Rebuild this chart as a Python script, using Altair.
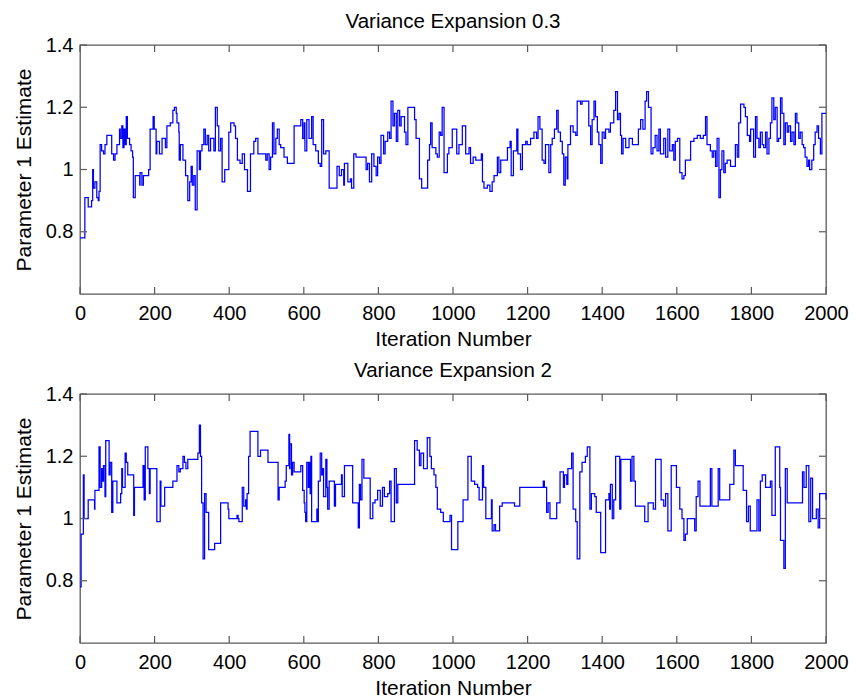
import altair as alt
import pandas as pd

# ---------------- data ----------------
top_iter = [0, 9, 13, 22, 31, 34, 36, 40, 45, 49, 51, 54, 58, 63, 67, 72, 85, 90, 94, 99,
            106, 108, 112, 115, 118, 121, 124, 127, 133, 137, 141, 143, 148, 160, 161, 166, 170, 184, 188, 196,
            199, 204, 206, 213, 220, 229, 233, 242, 249, 253, 258, 260, 265, 266, 269, 276, 283, 289, 294, 298,
            301, 305, 309, 314, 320, 323, 327, 332, 336, 341, 345, 350, 359, 363, 368, 372, 377, 381, 388, 399,
            404, 413, 417, 422, 429, 435, 441, 449, 457, 466, 471, 477, 493, 498, 502, 507, 511, 516, 520, 525,
            529, 534, 538, 547, 556, 574, 592, 597, 601, 603, 608, 614, 621, 625, 632, 639, 644, 648, 653, 659,
            668, 689, 695, 701, 707, 709, 718, 725, 728, 734, 740, 767, 771, 776, 782, 788, 794, 798, 803, 807,
            814, 818, 825, 830, 834, 839, 843, 848, 852, 857, 861, 870, 874, 879, 897, 901, 910, 916, 925, 932,
            937, 940, 944, 954, 958, 963, 967, 971, 976, 985, 989, 998, 1010, 1016, 1025, 1034, 1043, 1047, 1054, 1061,
            1076, 1079, 1083, 1092, 1099, 1105, 1110, 1119, 1123, 1128, 1146, 1153, 1156, 1162, 1171, 1174, 1181, 1186, 1195, 1199,
            1208, 1217, 1224, 1228, 1233, 1239, 1244, 1248, 1257, 1262, 1266, 1272, 1278, 1282, 1288, 1293, 1297, 1301, 1306, 1308,
            1315, 1322, 1329, 1333, 1342, 1346, 1364, 1369, 1373, 1378, 1382, 1387, 1391, 1396, 1400, 1405, 1409, 1418, 1422, 1431,
            1436, 1441, 1445, 1449, 1452, 1456, 1463, 1472, 1481, 1497, 1503, 1509, 1515, 1519, 1524, 1531, 1536, 1542, 1547, 1552,
            1556, 1565, 1570, 1576, 1581, 1588, 1592, 1596, 1602, 1608, 1614, 1619, 1623, 1632, 1637, 1646, 1655, 1663, 1671, 1677,
            1681, 1690, 1695, 1699, 1704, 1708, 1713, 1717, 1721, 1726, 1730, 1735, 1744, 1757, 1762, 1766, 1771, 1780, 1784, 1789,
            1795, 1798, 1806, 1811, 1815, 1820, 1824, 1829, 1833, 1838, 1842, 1847, 1851, 1855, 1860, 1864, 1869, 1873, 1878, 1882,
            1887, 1891, 1896, 1900, 1905, 1909, 1914, 1918, 1922, 1927, 1931, 1936, 1940, 1944, 1949, 1953, 1956, 1962, 1967, 1971,
            1976, 1980, 1985, 1989, 2000]
top_val = [0.78, 0.78, 0.91, 0.88, 0.90, 1.00, 0.94, 0.96, 0.91, 0.90, 0.93, 1.08, 1.06, 1.05, 1.08, 1.11, 1.05, 1.03, 1.05, 1.08,
           1.13, 1.10, 1.14, 1.07, 1.13, 1.08, 1.17, 1.10, 1.08, 1.06, 1.04, 0.91, 0.98, 0.95, 0.99, 0.95, 0.98, 1.00, 1.13, 1.17,
           1.13, 1.05, 1.09, 1.05, 1.10, 1.07, 1.14, 1.15, 1.19, 1.20, 1.18, 1.15, 1.12, 1.03, 1.08, 1.03, 0.98, 0.90, 0.96, 1.01,
           0.95, 0.98, 0.87, 1.06, 1.00, 1.06, 1.08, 1.13, 1.08, 1.11, 1.06, 1.10, 1.06, 1.20, 1.14, 1.06, 1.10, 0.96, 1.00, 1.12,
           1.15, 1.14, 1.10, 1.03, 1.02, 1.05, 1.00, 0.93, 1.05, 1.09, 1.10, 1.05, 1.05, 1.03, 1.05, 1.00, 1.04, 1.15, 1.05, 1.10,
           1.13, 1.08, 1.07, 1.04, 1.02, 1.14, 1.16, 1.10, 1.15, 1.06, 1.16, 1.10, 1.17, 1.08, 1.06, 1.02, 1.01, 1.16, 1.05, 1.06,
           0.94, 1.01, 0.98, 1.00, 0.95, 1.02, 0.96, 0.97, 0.94, 1.05, 1.04, 1.00, 1.02, 0.96, 1.05, 1.01, 0.98, 1.04, 1.02, 1.11,
           1.05, 1.09, 1.12, 1.10, 1.22, 1.14, 1.18, 1.09, 1.19, 1.14, 1.17, 1.12, 1.08, 1.20, 1.16, 1.10, 0.97, 0.94, 0.94, 1.03,
           1.08, 1.15, 1.07, 1.05, 1.04, 1.12, 1.11, 1.20, 0.99, 1.05, 1.07, 1.13, 1.05, 1.08, 1.14, 1.05, 1.07, 1.02, 1.04, 1.03,
           1.05, 0.96, 0.94, 0.95, 0.93, 0.96, 0.98, 1.04, 0.99, 1.03, 1.07, 1.09, 0.98, 1.06, 1.13, 1.05, 1.00, 1.08, 1.09, 1.08,
           1.10, 1.12, 1.10, 1.17, 1.13, 1.03, 1.02, 1.08, 0.99, 1.08, 1.10, 1.13, 1.19, 1.12, 1.09, 1.05, 0.95, 1.04, 0.97, 1.08,
           1.14, 1.12, 1.11, 1.22, 1.21, 1.22, 1.14, 1.08, 1.16, 1.22, 1.17, 1.12, 1.08, 1.02, 1.12, 1.10, 1.13, 1.12, 1.15, 1.19,
           1.25, 1.16, 1.18, 1.11, 1.05, 1.10, 1.07, 1.10, 1.08, 1.13, 1.16, 1.13, 1.22, 1.25, 1.20, 1.05, 1.07, 1.11, 1.06, 1.13,
           1.05, 1.10, 1.04, 1.13, 1.06, 1.08, 1.03, 1.09, 1.10, 0.99, 0.97, 0.98, 1.03, 1.03, 1.09, 1.10, 1.11, 1.10, 1.11, 1.17,
           1.08, 1.06, 1.04, 1.06, 1.01, 1.10, 0.91, 1.00, 1.06, 0.99, 1.02, 1.03, 1.01, 1.08, 1.04, 1.15, 1.21, 1.20, 1.17, 1.11,
           1.09, 1.13, 1.04, 1.17, 1.10, 1.07, 1.12, 1.08, 1.07, 1.12, 1.05, 1.10, 1.15, 1.23, 1.16, 1.20, 1.09, 1.10, 1.23, 1.18,
           1.08, 1.15, 1.12, 1.14, 1.09, 1.12, 1.08, 1.18, 1.15, 1.10, 1.12, 1.08, 1.07, 1.04, 1.01, 1.03, 1.00, 1.03, 1.08, 1.12,
           1.14, 1.10, 1.05, 1.18, 1.18]

bot_iter = [0, 3, 9, 11, 22, 39, 40, 51, 54, 58, 61, 63, 67, 69, 78, 81, 85, 88, 99, 109,
            112, 114, 121, 124, 128, 144, 146, 169, 172, 175, 182, 186, 188, 206, 215, 217, 227, 249, 260, 265,
            269, 276, 280, 284, 289, 316, 320, 323, 326, 330, 334, 338, 345, 361, 377, 397, 399, 421, 424, 426,
            435, 439, 444, 446, 448, 452, 456, 477, 484, 504, 531, 534, 550, 553, 560, 562, 563, 567, 570, 574,
            592, 597, 601, 603, 605, 608, 612, 614, 617, 619, 621, 635, 637, 639, 644, 648, 650, 653, 659, 662,
            664, 668, 682, 685, 701, 703, 709, 731, 746, 749, 752, 756, 761, 778, 785, 791, 798, 805, 811, 816,
            825, 830, 834, 843, 848, 852, 897, 904, 910, 914, 921, 931, 938, 942, 949, 954, 958, 967, 974, 992,
            996, 1013, 1027, 1040, 1049, 1058, 1066, 1070, 1079, 1082, 1088, 1103, 1105, 1110, 1114, 1125, 1132, 1165, 1179, 1242,
            1245, 1251, 1255, 1260, 1278, 1287, 1296, 1299, 1305, 1308, 1318, 1322, 1329, 1333, 1340, 1346, 1355, 1360, 1367, 1371,
            1380, 1384, 1396, 1409, 1418, 1420, 1422, 1427, 1431, 1436, 1447, 1450, 1476, 1480, 1485, 1489, 1514, 1523, 1537, 1543,
            1558, 1565, 1570, 1576, 1585, 1599, 1608, 1614, 1619, 1623, 1628, 1648, 1652, 1657, 1662, 1690, 1694, 1711, 1715, 1742,
            1753, 1757, 1778, 1787, 1792, 1797, 1815, 1820, 1824, 1829, 1838, 1851, 1855, 1864, 1876, 1878, 1887, 1891, 1896, 1937,
            1941, 1947, 1954, 1959, 1964, 1974, 1979, 1983, 2000]
bot_val = [0.78, 0.95, 1.14, 1.00, 1.06, 1.03, 1.09, 1.23, 1.10, 1.16, 1.12, 1.17, 1.07, 1.25, 1.14, 1.18, 1.02, 1.12, 1.05, 1.08,
           1.16, 1.10, 1.21, 1.18, 1.14, 1.01, 1.10, 1.17, 1.06, 1.23, 1.16, 1.08, 1.16, 0.99, 1.12, 1.04, 1.10, 1.12, 1.17, 1.15,
           1.16, 1.20, 1.18, 1.16, 1.19, 1.21, 1.30, 1.20, 1.05, 0.87, 1.08, 1.02, 0.90, 0.92, 1.05, 1.03, 1.00, 1.01, 1.00, 0.99,
           1.10, 1.04, 1.06, 1.03, 1.08, 1.20, 1.28, 1.20, 1.22, 1.18, 1.06, 1.10, 1.12, 1.17, 1.27, 1.16, 1.24, 1.14, 1.18, 1.15,
           1.17, 1.09, 1.05, 1.02, 0.99, 1.18, 1.10, 1.18, 1.08, 1.20, 0.99, 1.03, 0.99, 1.12, 1.21, 1.14, 1.16, 1.07, 1.19, 1.10,
           1.03, 1.12, 1.04, 1.11, 1.14, 1.07, 1.17, 1.05, 0.97, 1.11, 1.06, 1.19, 1.13, 1.00, 1.05, 1.06, 1.09, 1.04, 1.10, 1.07,
           1.08, 1.12, 0.99, 1.16, 1.05, 1.11, 1.25, 1.22, 1.17, 1.21, 1.16, 1.26, 1.20, 1.16, 1.14, 1.10, 1.03, 1.02, 0.99, 1.01,
           0.90, 0.99, 1.06, 1.20, 1.12, 1.11, 1.10, 1.06, 1.17, 1.10, 1.00, 1.06, 0.96, 0.98, 0.96, 1.04, 1.05, 1.04, 1.10, 1.12,
           1.10, 1.02, 1.05, 1.00, 1.05, 1.15, 1.10, 1.14, 1.11, 1.16, 1.21, 1.03, 0.99, 0.87, 1.15, 1.18, 1.20, 1.23, 1.03, 1.08,
           1.07, 1.02, 0.89, 1.06, 1.08, 1.03, 1.11, 1.00, 1.06, 1.20, 1.03, 1.19, 1.12, 1.20, 1.12, 1.04, 0.99, 1.05, 1.03, 1.19,
           1.06, 1.04, 1.08, 0.96, 1.17, 1.10, 1.03, 1.00, 0.93, 0.95, 1.00, 0.96, 1.07, 1.12, 1.04, 1.16, 1.04, 1.16, 1.06, 1.11,
           1.22, 1.17, 1.09, 0.99, 1.04, 0.96, 1.06, 0.96, 1.12, 1.14, 1.10, 1.12, 1.01, 1.23, 1.10, 0.93, 0.84, 1.16, 1.05, 1.15,
           1.10, 1.17, 0.99, 1.13, 1.00, 1.03, 0.97, 1.08, 1.06]

panel_titles = ["Variance Expansion 0.3", "Variance Expansion 2"]
x_title = "Iteration Number"
y_title = "Parameter 1 Estimate"
x_ticks = [0, 200, 400, 600, 800, 1000, 1200, 1400, 1600, 1800, 2000]
y_ticks = [0.8, 1.0, 1.2, 1.4]
x_domain = [0, 2000]
y_domain = [0.6, 1.4]

# ---------------- styling ----------------
W, H = 746, 249
TICK = 7
FRAME = "#5a5a5a"
FONT = "Liberation Sans"


def panel(iters, vals, title):
    df = pd.DataFrame({"iter": iters, "val": vals})
    xs = alt.Scale(domain=x_domain, nice=False, zero=False)
    ys = alt.Scale(domain=y_domain, nice=False, zero=False)
    x_axis = alt.Axis(values=x_ticks, title=x_title, format="d",
                      labelFlush=False, labelOverlap=False,
                      labelPadding=9, titlePadding=5)
    y_axis = alt.Axis(values=y_ticks, title=y_title, format="~g",
                      labelPadding=7, titlePadding=11)
    line = alt.Chart(df).mark_line(
        interpolate="step-after", color="#0000ff", strokeWidth=1.25
    ).encode(
        x=alt.X("iter:Q", scale=xs, axis=x_axis, title=x_title),
        y=alt.Y("val:Q", scale=ys, axis=y_axis, title=y_title),
    )
    xt = pd.DataFrame({"t": x_ticks})
    yt = pd.DataFrame({"v": y_ticks})
    rule = dict(color=FRAME, strokeWidth=1.2)
    bottom_ticks = alt.Chart(xt).mark_rule(**rule).encode(
        x=alt.X("t:Q", scale=xs, axis=x_axis, title=x_title),
        y=alt.value(H), y2=alt.value(H - TICK))
    top_ticks = alt.Chart(xt).mark_rule(**rule).encode(
        x=alt.X("t:Q", scale=xs, axis=x_axis, title=x_title),
        y=alt.value(0), y2=alt.value(TICK))
    left_ticks = alt.Chart(yt).mark_rule(**rule).encode(
        y=alt.Y("v:Q", scale=ys, axis=y_axis, title=y_title),
        x=alt.value(0), x2=alt.value(TICK))
    right_ticks = alt.Chart(yt).mark_rule(**rule).encode(
        y=alt.Y("v:Q", scale=ys, axis=y_axis, title=y_title),
        x=alt.value(W), x2=alt.value(W - TICK))
    return alt.layer(line, bottom_ticks, top_ticks, left_ticks, right_ticks).properties(
        width=W, height=H,
        title=alt.TitleParams(title, fontSize=20.5, fontWeight="normal", font=FONT,
                              color="#000000", anchor="middle", offset=3),
    )


chart = alt.vconcat(
    panel(top_iter, top_val, panel_titles[0]),
    panel(bot_iter, bot_val, panel_titles[1]),
    spacing=9,
).properties(
    padding={"left": 12, "top": 10, "right": 5, "bottom": 2},
    background="white",
).configure_view(
    stroke=FRAME, strokeWidth=1.3
).configure_axis(
    domain=False, ticks=False, grid=False,
    labelFont=FONT, labelFontSize=20, labelColor="#000000",
    titleFont=FONT, titleFontSize=21, titleFontWeight="normal", titleColor="#000000",
)

chart.save("out.html", embed_options={"renderer": "svg", "actions": False})
